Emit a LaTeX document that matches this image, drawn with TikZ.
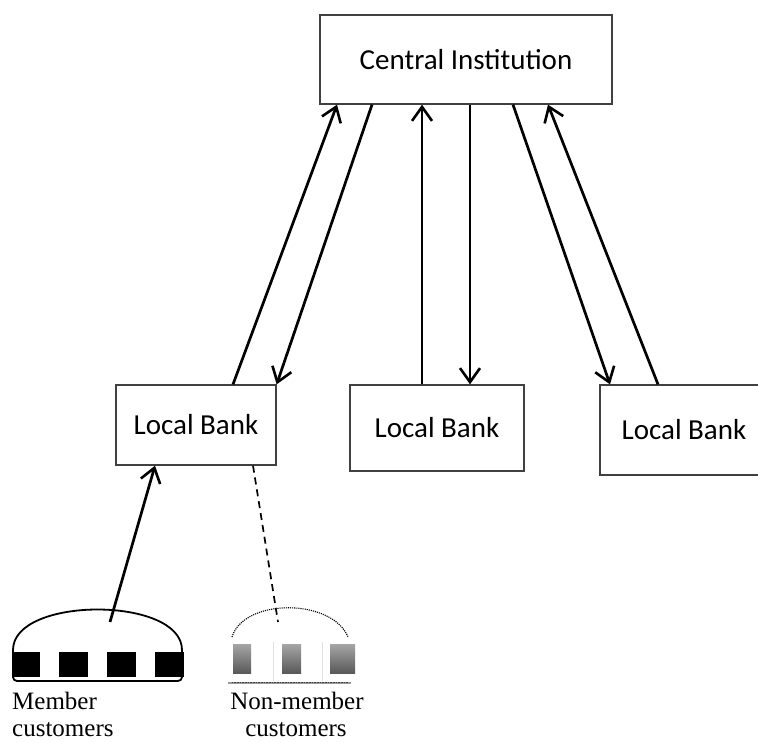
\documentclass[tikz,border=0pt]{standalone}
\usepackage{fontspec}
\setmainfont{Liberation Serif}
\newfontfamily\boxfont{Carlito}
\usetikzlibrary{arrows.meta,calc}
\begin{document}
\begin{tikzpicture}[x=1pt,y=-1pt,
  box/.style={draw=black!75,line width=1.3pt,rectangle,inner sep=0pt,font=\boxfont\fontsize{29}{33}\selectfont},
  tip/.style={-{Straight Barb[length=14pt,width=20pt,line width=2.6pt]}},
  link/.style={line width=2.7pt,tip},
  lbl/.style={font=\fontsize{25}{29}\selectfont,inner sep=0pt},
  member/.style={fill=black},
  nonmember/.style={top color=black!35,bottom color=black!65}
]
\clip (0,0) rectangle (758,742);
\fill[white] (0,0) rectangle (758,742);
% nodes
\node[box,minimum width=292pt,minimum height=89pt] (ci) at (466,59.5) {Central Institution};
\node[box,minimum width=160pt,minimum height=80pt] (lb1) at (196,425) {Local Bank};
\node[box,minimum width=174pt,minimum height=86pt] (lb2) at (437,428) {Local Bank};
\node[box,minimum width=168pt,minimum height=90pt] (lb3) at (684,430) {Local Bank};
% arrows between central institution and local banks
\draw[link] ([xshift=37pt]lb1.north) -- ([xshift=-129pt]ci.south);
\draw[link] ([xshift=-94pt]ci.south) -- (lb1.north east);
\draw[link] ([xshift=-15pt]lb2.north) -- ([xshift=-44pt]ci.south);
\draw[link] ([xshift=4pt]ci.south) -- ([xshift=33pt]lb2.north);
\draw[link] ([xshift=47pt]ci.south) -- ([xshift=-74pt]lb3.north);
\draw[link] ([xshift=-26pt]lb3.north) -- ([xshift=82pt]ci.south);
% member customers group
\coordinate (mtop) at (110,622);
\draw[line width=1.8pt,rounded corners=4pt] (13,650) -- (13,681) -- (182,681) -- (182,650);
\draw[line width=1.8pt] (13,650) .. controls (13,596) and (182,596) .. (182,650);
\fill[member] (12,652) rectangle (40,677);
\fill[member] (59,652) rectangle (88,677);
\fill[member] (107,652) rectangle (136,677);
\fill[member] (155,652) rectangle (184,677);
\draw[link] (mtop) -- ([xshift=-41pt]lb1.south);
% non-member customers group
\coordinate (ntop) at (278,622);
\draw[line width=1.1pt,densely dotted] (232,637) .. controls (244,598) and (332,598) .. (348,637);
\draw[black!12,line width=0.6pt] (273,642) -- (273,681) (322,642) -- (322,681);
\shade[nonmember] (233,644) rectangle (251,673);
\shade[nonmember] (282,644) rectangle (301,673);
\shade[nonmember] (330,644) rectangle (355,673);
\draw[black!40,line width=2.5pt] (228,683) -- (351,683);
\draw[black!75,line width=0.6pt,densely dotted] (232,682) -- (348,682);
\draw[line width=1.7pt,dash pattern=on 7pt off 5pt] ([xshift=57pt]lb1.south) -- (ntop);
% labels
\node[lbl,anchor=base west] (m1) at (12,709) {Member};
\node[lbl,anchor=base west] (m2) at (12,736) {customers};
\node[lbl,anchor=base] (n1) at (297,709) {Non-member};
\node[lbl,anchor=base] (n2) at (296,736) {customers};
\end{tikzpicture}
\end{document}
